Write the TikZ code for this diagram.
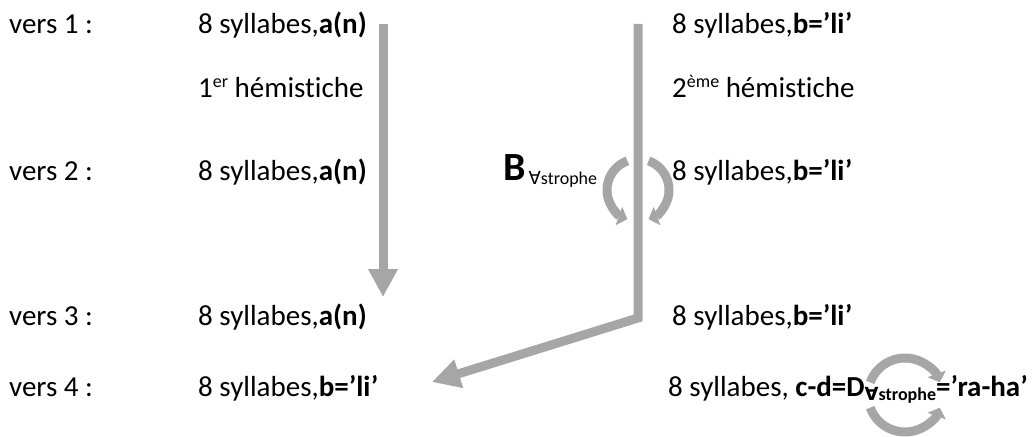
\documentclass[tikz,border=0pt]{standalone}
\usepackage{fontspec}
\setmainfont{Carlito}[Ligatures=CommonOff]
\newfontfamily\symfont{DejaVu Sans}
\usetikzlibrary{arrows.meta}
\definecolor{arrowgray}{HTML}{A6A6A6}
\newcommand{\fa}{{\symfont ∀}}
\newcommand{\supr}[1]{\raisebox{10pt}{\fontsize{18}{18}\selectfont #1}}
\newcommand{\subr}[1]{\raisebox{-4pt}{\fontsize{18}{20}\selectfont #1}}
\begin{document}
\begin{tikzpicture}[x=1pt,y=1pt,
  txt/.style={anchor=base west, inner sep=0pt, font=\fontsize{29}{35}\selectfont},
  bigarrow/.style={draw=arrowgray, line width=9pt, -{Triangle[width=28pt,length=28pt]}},
  rotarrow/.style={draw=arrowgray, line width=9pt, -{Triangle[width=19pt,length=9pt]}}]
\useasboundingbox (0,0) rectangle (1035,-436);
% arrows
\coordinate (a1s) at (383,-24);
\coordinate (a1e) at (383,-297);
\draw[bigarrow] (a1s) -- (a1e);
\coordinate (a2s) at (638,-24);
\coordinate (a2c) at (638,-318);
\coordinate (a2e) at (432,-382);
\draw[bigarrow] (a2s) -- (a2c) -- (a2e);
% rotation arrows
\coordinate (cB) at (638,-190);
\draw[rotarrow] ([shift={(110:31)}]cB) arc[start angle=110,end angle=250,radius=31];
\draw[rotarrow] ([shift={(70:31)}]cB) arc[start angle=70,end angle=-70,radius=31];
\coordinate (cD) at (905,-395);
\draw[rotarrow] ([shift={(160:37)}]cD) arc[start angle=160,end angle=20,radius=37];
\draw[rotarrow] ([shift={(200:37)}]cD) arc[start angle=200,end angle=340,radius=37];
% texts
\node[txt] (v1) at (9,-34) {vers 1 :};
\node[txt] (s1) at (198,-34) {8 syllabes,\textbf{a(n)}};
\node[txt] (t1) at (672,-34) {8 syllabes,\textbf{b=’li’}};
\node[txt] (h1) at (198,-97) {1\supr{er} hémistiche};
\node[txt] (h2) at (672,-97) {2\supr{ème} hémistiche};
\node[txt] (v2) at (9,-180) {vers 2 :};
\node[txt] (s2) at (198,-180) {8 syllabes,\textbf{a(n)}};
\node[anchor=base west, inner sep=0pt] (B) at (503,-180) {\fontsize{40}{44}\selectfont\textbf{B}\hspace{3pt}\subr{\fa strophe}};
\node[txt] (t2) at (672,-180) {8 syllabes,\textbf{b=’li’}};
\node[txt] (v3) at (9,-325) {vers 3 :};
\node[txt] (s3) at (198,-325) {8 syllabes,\textbf{a(n)}};
\node[txt] (t3) at (672,-325) {8 syllabes,\textbf{b=’li’}};
\node[txt] (v4) at (9,-396) {vers 4 :};
\node[txt] (s4) at (198,-396) {8 syllabes,\textbf{b=’li’}};
\node[txt] (t4) at (668,-396) {8 syllabes, \textbf{c-d=D\subr{\fa strophe}=’ra-ha’}};
\end{tikzpicture}
\end{document}
